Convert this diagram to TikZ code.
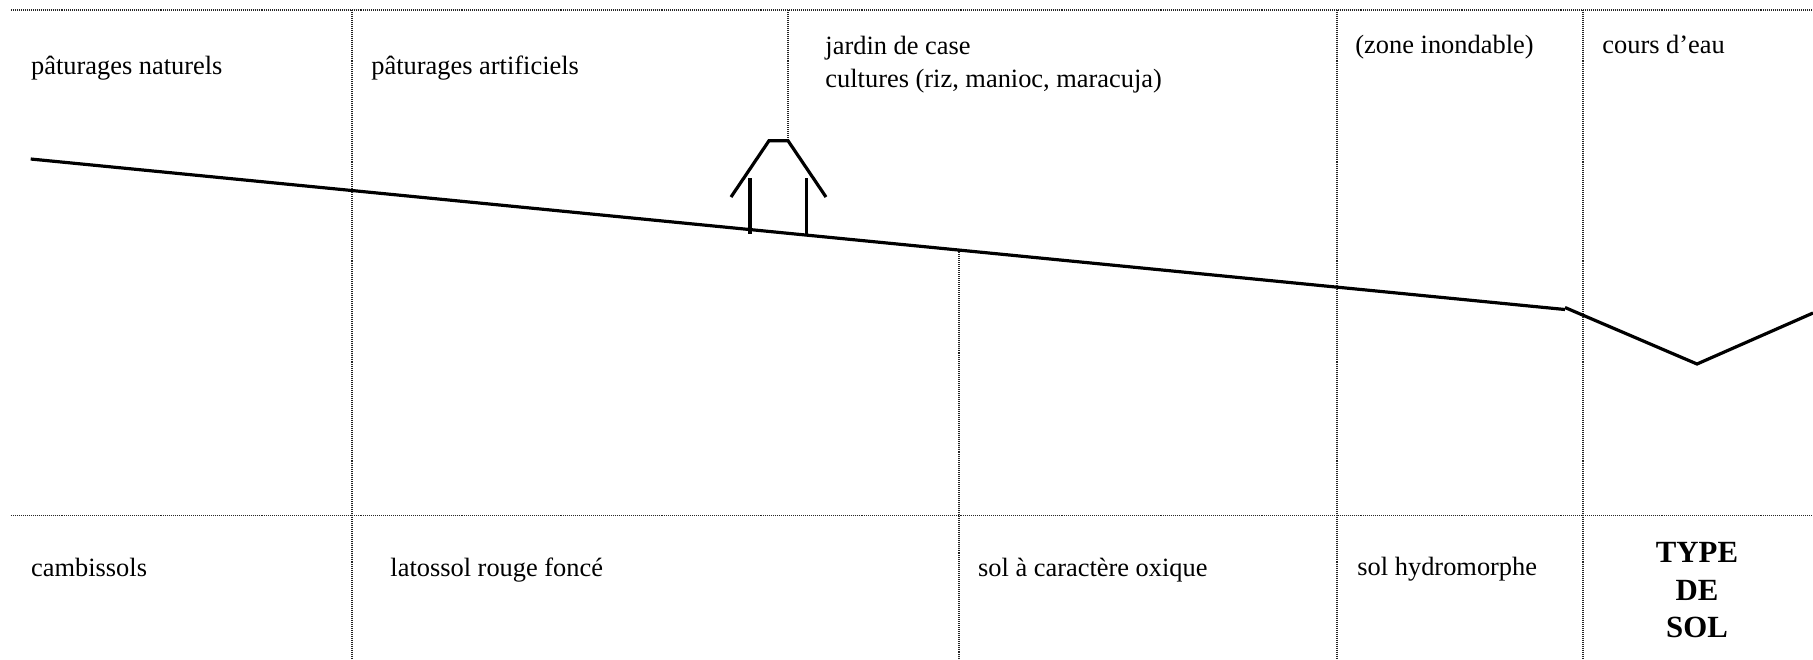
\documentclass[tikz,border=0pt]{standalone}
\usepackage{fontspec}
\setmainfont{Liberation Serif}
\begin{document}
\begin{tikzpicture}[x=0.4545pt,y=-0.4545pt,
  grid/.style={line width=0.5pt, black!85, dash pattern=on 0.45pt off 0.45pt},
  terrain/.style={line width=1.45pt, line join=miter},
  lbl/.style={anchor=base west, inner sep=0pt, font=\fontsize{12}{15}\selectfont},
  boldlbl/.style={anchor=base, inner sep=0pt, font=\fontsize{14}{17}\selectfont\bfseries}]
\useasboundingbox (0,0) rectangle (1813,659);
% grid coordinates
\coordinate (tl) at (11,10);
\coordinate (tr) at (1813,10);
\coordinate (ml) at (11,515.5);
\coordinate (mr) at (1813,515.5);
\coordinate (v1t) at (352,10);   \coordinate (v1b) at (352,659);
\coordinate (v2t) at (788,10);   \coordinate (v2b) at (788,140.7);
\coordinate (v3t) at (959,250.5);\coordinate (v3b) at (959,659);
\coordinate (v4t) at (1337,10);  \coordinate (v4b) at (1337,659);
\coordinate (v5t) at (1583,10);  \coordinate (v5b) at (1583,659);
\draw[grid] (tl) -- (tr);
\draw[grid] (ml) -- (mr);
\draw[grid] (v1t) -- (v1b);
\draw[grid] (v2t) -- (v2b);
\draw[grid] (v3t) -- (v3b);
\draw[grid] (v4t) -- (v4b);
\draw[grid] (v5t) -- (v5b);
% terrain
\coordinate (g0) at (30.7,159);
\coordinate (g1) at (1565,309.5);
\coordinate (r0) at (1565,307.5);
\coordinate (r1) at (1697,364);
\coordinate (r2) at (1813,313);
\draw[terrain] (g0) -- (g1);
\draw[terrain] (r0) -- (r1) -- (r2);
% house
\coordinate (h1) at (731,197);
\coordinate (h2) at (769,140.7);
\coordinate (h3) at (788,140.7);
\coordinate (h4) at (826,197);
\coordinate (w1t) at (750,178);   \coordinate (w1b) at (750,234);
\coordinate (w2t) at (806.7,178); \coordinate (w2b) at (806.7,235);
\draw[terrain] (h1) -- (h2) -- (h3) -- (h4);
\draw[terrain] (w1t) -- (w1b);
\draw[terrain] (w2t) -- (w2b);
% labels top
\node[lbl] (pn) at (30.7,74) {pâturages naturels};
\node[lbl] (pa) at (371,74) {pâturages artificiels};
\node[lbl] (jc) at (825,54.3) {jardin de case};
\node[lbl] (cu) at (825,87.3) {cultures (riz, manioc, maracuja)};
\node[lbl] (zi) at (1355,53.3) {(zone inondable)};
\node[lbl] (ce) at (1602,53.3) {cours d’eau};
% labels bottom
\node[lbl] (cb) at (30.7,576.7) {cambissols};
\node[lbl] (lr) at (390,576.7) {latossol rouge foncé};
\node[lbl] (so) at (977.7,576) {sol à caractère oxique};
\node[lbl] (sh) at (1357,575) {sol hydromorphe};
\node[boldlbl] (t1) at (1697,562) {TYPE};
\node[boldlbl] (t2) at (1697,600) {DE};
\node[boldlbl] (t3) at (1697,637) {SOL};
\end{tikzpicture}
\end{document}
